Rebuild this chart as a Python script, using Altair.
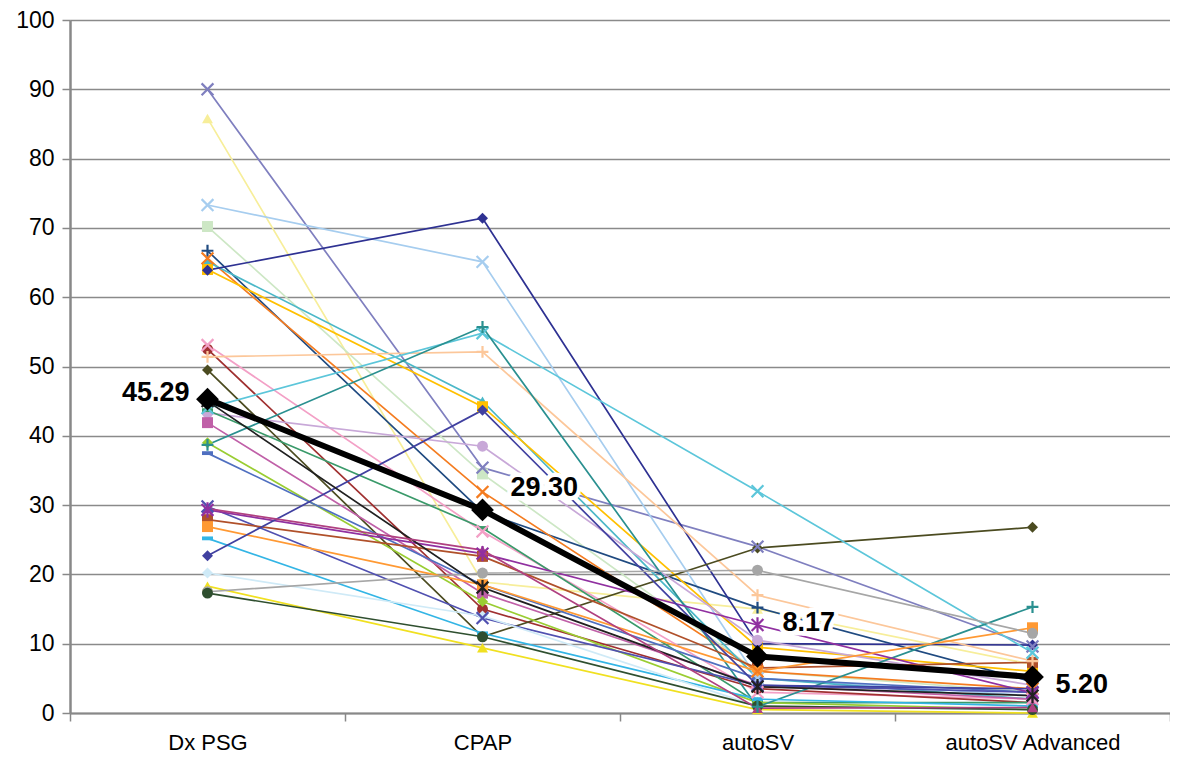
import altair as alt
import pandas as pd

categories = ["Dx PSG", "CPAP", "autoSV", "autoSV Advanced"]

# per-patient series: [Dx PSG, CPAP, autoSV, autoSV Advanced]
series_values = [
    [90.0, 35.4, 24.0, 9.6],
    [85.8, 18.9, 15.0, 7.0],
    [73.3, 65.1, 5.0, 2.5],
    [70.2, 34.5, 6.0, 3.0],
    [66.7, 29.0, 15.2, 4.5],
    [65.6, 31.9, 6.0, 3.5],
    [65.1, 45.0, 5.0, 2.0],
    [64.0, 44.2, 9.5, 6.0],
    [63.9, 71.4, 10.0, 9.8],
    [53.1, 26.2, 3.0, 2.0],
    [52.5, 15.0, 3.5, 1.5],
    [51.4, 52.1, 17.0, 7.5],
    [49.5, 11.0, 23.8, 26.8],
    [44.0, 54.8, 32.0, 8.7],
    [43.3, 38.5, 10.5, 4.0],
    [43.7, 26.7, 1.5, 1.5],
    [41.9, 17.3, 4.0, 2.0],
    [39.0, 16.1, 1.5, 0.5],
    [38.7, 55.7, 0.9, 15.3],
    [37.5, 18.5, 5.0, 3.0],
    [29.8, 13.7, 4.0, 3.0],
    [29.3, 23.0, 12.7, 2.9],
    [27.9, 22.6, 6.5, 7.3],
    [26.9, 18.5, 6.0, 12.3],
    [25.2, 11.5, 2.0, 1.0],
    [22.7, 43.7, 4.0, 3.5],
    [20.2, 14.0, 1.0, 0.5],
    [18.3, 9.4, 0.5, 0.0],
    [17.5, 20.2, 20.6, 11.5],
    [17.3, 11.0, 1.0, 0.5],
    [45.0, 18.1, 3.8, 2.5],
    [29.5, 23.5, 0.7, 0.8],
]

series_colors = [
    "#7f7fbf", "#f7ee9a", "#a6cdef", "#cde7c5", "#1f4a80", "#f47c20",
    "#4bb8c8", "#ffc000", "#2e3192", "#f3a0c6", "#a03030", "#fcc79a",
    "#4b4b20", "#5cc6da", "#c8a8d8", "#3a9a6a", "#c060a8", "#9acd32",
    "#2a9090", "#4f6fc0", "#5050b0", "#9030a0", "#b0502a", "#ff9933",
    "#33b5e5", "#4040a0", "#cfeaf7", "#f0e020", "#a6a6a6", "#2f4f2f",
    "#202020", "#b04080",
]

series_markers = [
    "x", "triangle-up", "x", "square", "plus", "x",
    "triangle-up", "square", "diamond", "x", "circle", "plus",
    "diamond", "x", "circle", "dash", "square", "diamond",
    "plus", "dash", "x", "asterisk", "square", "square",
    "dash", "diamond", "diamond", "triangle-up", "circle", "circle",
    "asterisk", "triangle-up",
]

mean_values = [45.29, 29.30, 8.17, 5.20]
mean_labels = ["45.29", "29.30", "8.17", "5.20"]

y_ticks = list(range(0, 101, 10))

# ---- build tables ----
X_PATH = "M-1,-1L1,1M-1,1L1,-1"
PLUS_PATH = "M-1,0L1,0M0,-1L0,1"
AST_PATH = "M-1,-1L1,1M-1,1L1,-1M0,-1.3L0,1.3"
DASH_PATH = "M-1,-0.35L1,-0.35L1,0.35L-1,0.35Z"
shape_map = {
    "x": X_PATH, "plus": PLUS_PATH, "asterisk": AST_PATH, "dash": DASH_PATH,
    "triangle-up": "triangle-up", "square": "square", "diamond": "diamond",
    "circle": "circle",
}
stroked = {"x", "plus", "asterisk"}

rows = []
for i, vals in enumerate(series_values):
    for c, v in zip(categories, vals):
        m = series_markers[i]
        rows.append({
            "sid": f"s{i:02d}", "cat": c, "val": v,
            "col": series_colors[i], "shape": shape_map[m],
            "stroked": m in stroked,
        })
df = pd.DataFrame(rows)
df_fill = df[~df["stroked"]]
df_stroke = df[df["stroked"]]

mean_df = pd.DataFrame({"cat": categories, "val": mean_values, "lab": mean_labels})

x_enc = alt.X("cat:N", sort=categories, title=None,
              scale=alt.Scale(paddingInner=0, paddingOuter=0),
              axis=alt.Axis(labelFontSize=22, labelFont="Liberation Sans",
                            labelColor="#000000", labelAngle=0, labelPadding=11,
                            domainColor="#888888", domainWidth=2,
                            tickBand="extent", tickColor="#888888",
                            tickSize=8, tickWidth=1.5, grid=False))
y_enc = alt.Y("val:Q", title=None,
              scale=alt.Scale(domain=[0, 100], nice=False, zero=True),
              axis=alt.Axis(values=y_ticks, labelFontSize=23,
                            labelFont="Liberation Sans", labelColor="#000000",
                            labelPadding=8, domainColor="#888888",
                            domainWidth=2.5, tickColor="#888888", tickSize=8,
                            tickWidth=1.5, gridColor="#8a8a8a", gridWidth=1.5,
                            gridOpacity=1))

lines = alt.Chart(df).mark_line(strokeWidth=1.7).encode(
    x=x_enc, y=y_enc, detail="sid:N",
    color=alt.Color("col:N", scale=None),
)
pts_fill = alt.Chart(df_fill).mark_point(filled=True, size=120, opacity=1).encode(
    x=alt.X("cat:N", sort=categories),
    y="val:Q",
    color=alt.Color("col:N", scale=None),
    shape=alt.Shape("shape:N", scale=None),
)
pts_stroke = alt.Chart(df_stroke).mark_point(filled=False, size=140,
                                              strokeWidth=2.2, opacity=1).encode(
    x=alt.X("cat:N", sort=categories),
    y="val:Q",
    color=alt.Color("col:N", scale=None),
    shape=alt.Shape("shape:N", scale=None),
)
mean_line = alt.Chart(mean_df).mark_line(color="#000000", strokeWidth=6).encode(
    x=alt.X("cat:N", sort=categories), y="val:Q")
mean_pts = alt.Chart(mean_df).mark_point(shape="diamond", filled=True, size=520,
                                         color="#000000", opacity=1).encode(
    x=alt.X("cat:N", sort=categories), y="val:Q")

label_offsets = {
    "45.29": (-18, -6, "right"),
    "29.30": (28, -22, "left"),
    "8.17": (25, -33, "left"),
    "5.20": (23, 8, "left"),
}
text_layers = []
for lab, (dx, dy, al) in label_offsets.items():
    sub = mean_df[mean_df["lab"] == lab]
    base = alt.Chart(sub)
    halo = base.mark_text(align=al, baseline="middle", dx=dx, dy=dy,
                          font="Liberation Sans", fontSize=27, fontWeight="bold",
                          fill="#ffffff", stroke="#ffffff", strokeWidth=9,
                          strokeJoin="miter").encode(
        x=alt.X("cat:N", sort=categories), y="val:Q", text="lab:N")
    txt = base.mark_text(align=al, baseline="middle", dx=dx, dy=dy,
                         font="Liberation Sans", fontSize=27, fontWeight="bold",
                         color="#000000").encode(
        x=alt.X("cat:N", sort=categories), y="val:Q", text="lab:N")
    text_layers += [halo, txt]

chart = alt.layer(lines, pts_fill, pts_stroke, mean_line, mean_pts,
                  *text_layers).properties(
    width=1100, height=693,
    autosize=alt.AutoSizeParams(type="none"),
    padding={"left": 62, "top": 12, "right": 0, "bottom": 41},
).configure_view(stroke=None).configure(background="#ffffff")

chart.save("out.html", embed_options={"renderer": "svg", "actions": False})
